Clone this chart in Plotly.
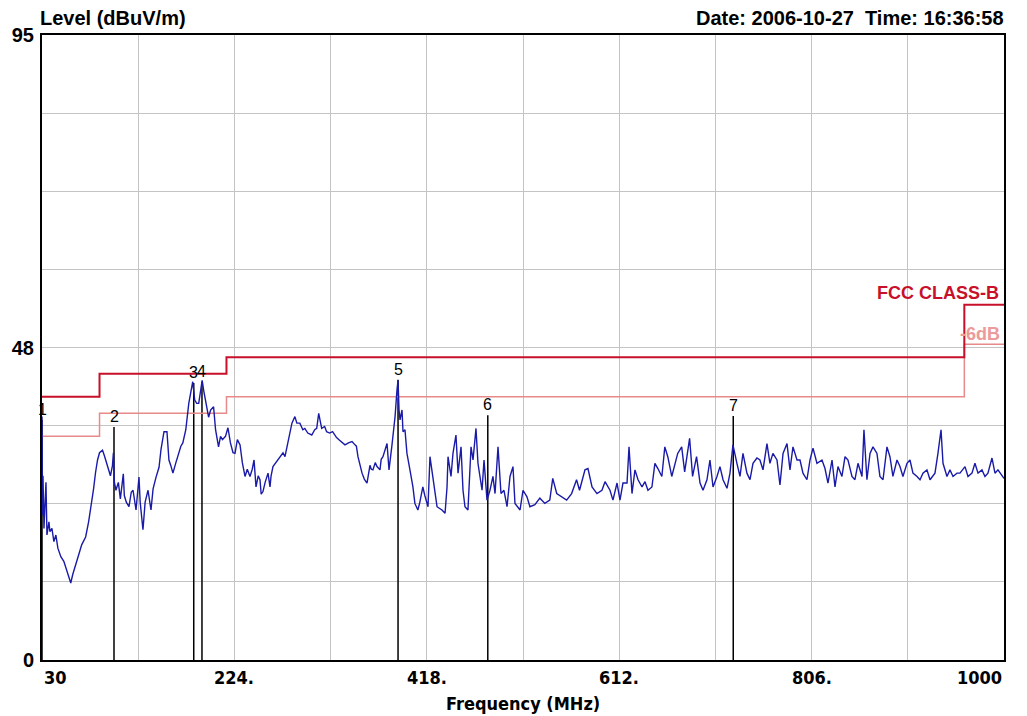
import plotly.graph_objects as go

# ---------------- data ----------------
trace_freq = [
    30, 30.5, 31, 32, 34, 35, 37, 38, 40, 42, 44, 46, 49, 52, 55, 57, 59, 61, 64, 67, 70, 74, 77, 79,
    82, 84, 86, 88, 91, 93, 96.5, 99, 101, 102, 103, 104.6, 107, 109, 112, 113, 115, 117.7, 120,
    121.8, 124.8, 127.8, 129, 131.8, 134, 136.9, 139.9, 142, 145, 148, 150, 153, 156, 158, 160, 162,
    165, 167, 170, 172, 175, 178, 181, 182, 184, 186, 188, 190, 191.5, 193, 195, 198, 200, 203, 205,
    208, 210, 212, 215, 217.5, 220, 222.6,
    224.6, 227, 229.7, 232, 234.7, 237, 239.7, 242, 243.8, 245.8, 248, 249.8, 251, 252.8, 255, 257.9,
    259.9, 261, 262.9, 266, 270, 273, 275, 278, 280, 282, 285, 287, 290, 293, 295, 298, 302, 305, 307,
    309, 312, 315, 317, 320, 323, 327, 330, 335.5, 339, 342.6, 345.6, 347, 348.6, 352.7, 355, 357.7,
    360.7, 362, 363.7, 366, 367.8, 370.8, 372, 373.8, 377.9, 379.9, 382.9, 384.9, 386, 387.9, 389, 390,
    391, 393, 394, 396, 398, 401, 404, 406, 409, 411, 414, 416,
    419.2, 421.2, 424.2, 428.3, 433.3, 436.4, 438.4, 439.4, 442.4, 444.4, 447.4, 449.5, 452.5, 454.5,
    456.5, 459.5, 462.6, 464.6, 467.6, 469.6, 473.7, 475.7, 478.7, 481.7, 484.7, 486.8, 489.8, 492.8,
    495.8, 498.9, 501.9, 504.9, 506.9, 512, 515, 519, 522, 527, 532, 537, 542, 545, 549, 554, 559, 564,
    569, 572, 577.5, 580.5, 584.6, 589.6, 594.6, 597.7, 602.7, 605.7, 609.8, 612.8, 615.8,
    619.9, 621.9, 624.9, 627.9, 631, 635, 638, 641, 645, 648, 651, 655, 658, 661, 665, 668, 671, 675,
    678, 683, 686, 690, 693.5, 696.5, 700.5, 703.5, 706.6, 710.6, 713.6, 716.7, 720.7, 723.7, 726.7,
    730.7, 733.8, 736.8, 740.8, 743.9, 746.9, 750.9, 753.9, 757, 761, 764, 767, 771.1, 774.1, 777.2,
    781.2, 784.2, 787.2, 791.3, 794.3, 797.3, 801.3, 804.4, 807.4, 811.4,
    816.5, 819.5, 822.5, 826.6, 829.6, 832.6, 836.6, 839.7, 842.7, 846.7, 849.7, 852.8, 856.8, 858.8,
    861.8, 864.9, 867.9, 871.9, 874.9, 878, 882, 885, 888, 892.1, 895.1, 898.1, 902.2, 905.2, 908.2,
    912.3, 915.3, 918.3, 922.3, 925.4, 930.4, 933.4, 936.5, 938.5, 942.5, 945.5, 948.6, 952.6, 955.6,
    960.7, 963.7, 967.7, 970.7, 973.8, 977.8, 980.8, 983.8, 987.9, 990.9, 993.9, 998, 1000,
]
trace_level = [
    37, 22, 28, 20, 27, 19, 21, 19.5, 20, 18, 19, 17, 15.7, 15, 13.5, 12.5, 11.7, 13, 14.7, 16, 17.5,
    18.7, 21, 22.8, 26, 28.5, 30.4, 31.5, 31.9, 31, 29.3, 28, 29.5, 31.5, 27, 25.8, 27, 24.5, 28.3, 25,
    24, 23.3, 25.5, 25.8, 22.8, 27.8, 24, 19.8, 24, 25.8, 22.8, 26, 27.8, 29.3, 32, 34.7, 34.7, 30.4,
    29.5, 28.4, 30, 30.9, 32.5, 33, 35, 39, 41.8, 42.3, 39.5, 39, 39, 41.5, 42.5, 41, 39.5, 36.9, 38,
    38.5, 35, 32.4, 34, 33.5, 34, 35.3, 33, 31.5,
    31.4, 33.5, 32.7, 30, 27.9, 29, 27.9, 29, 30.4, 26.3, 28, 27.4, 25.2, 25.6, 27, 28.4, 26.3, 28,
    29.4, 30, 30.9, 31.5, 30.9, 32.9, 34.5, 36.0, 37.0, 36, 36.0, 35, 35.2, 34.5, 34.2, 35, 35.2, 37.5,
    35.2, 35.5, 34.7, 34.5, 34.7, 33.8, 33.4, 32.7, 33, 33.2, 32.7, 32.5, 30.9, 28.4, 27.5, 26.9, 29.6,
    29, 28.9, 30, 29.4, 28.9, 30.5, 30.9, 32.9, 28.9, 32.7, 35.5, 37, 41.0, 42.5, 38, 36.5, 38, 34.7,
    35, 31.4, 28.9, 26.3, 23.8, 22.8, 24, 26.3, 25,
    23.3, 30.9, 27.9, 23.3, 22.8, 22.3, 26.3, 30.9, 27.9, 31.4, 34.2, 28.4, 32.4, 25.8, 23.3, 22.8,
    32.4, 30.4, 35.2, 29.9, 25.8, 30.4, 24.3, 25.8, 27.9, 25.3, 32.4, 25.3, 25.8, 23.3, 27.9, 29.4,
    23.8, 22.8, 25.8, 24.8, 23.3, 23.6, 24.6, 23.8, 24.3, 27.6, 25.3, 24.8, 24.3, 25.3, 27.4, 25.8,
    28.9, 29.1, 26.3, 25.3, 25.8, 27.1, 25.8, 24.3, 26.9, 24.3, 26.9,
    26.9, 32.4, 25.3, 28.9, 27.4, 26.3, 27.1, 25.8, 26.3, 29.9, 29.1, 27.9, 32.4, 30.9, 27.9, 29.9,
    31.4, 32.4, 28.6, 33.7, 27.9, 30.9, 26.9, 25.8, 27.4, 30.4, 26.3, 27.9, 29.4, 27.4, 26.1, 28.4,
    32.7, 29.9, 27.9, 31.4, 28.4, 27.4, 29.9, 30.7, 30.4, 28.9, 32.9, 29.9, 31.4, 30.4, 26.6, 31.4,
    32.9, 28.9, 32.4, 30.4, 30.4, 28.4, 27.4, 30.4, 32.2, 29.9,
    30.4, 29.1, 26.9, 30.4, 26.3, 29.4, 27.9, 30.9, 30.4, 27.9, 27.4, 29.9, 27.9, 35.0, 27.4, 31.4,
    32.4, 31.4, 27.9, 27.4, 32.4, 30.9, 27.9, 30.4, 29.4, 27.9, 29.9, 30.4, 28.4, 27.9, 27.4, 28.4,
    28.9, 27.4, 28.4, 31.4, 35.0, 29.9, 27.9, 28.9, 27.9, 28.4, 28.4, 29.4, 27.9, 28.4, 29.9, 28.4,
    28.9, 27.9, 28.4, 30.7, 28.4, 28.9, 27.9, 27.6,
]

limit_freq = [30, 88, 216, 960, 1000]
limit_level = [40, 43.5, 46, 54, 54]
limit6_level = [34, 37.5, 40, 48, 48]

marker_labels = ["1", "2", "3", "4", "5", "6", "7"]
marker_freq = [30, 102.6, 183, 191.3, 389, 479.5, 727]
marker_level = [36.5, 35.4, 42.1, 42.3, 42.6, 37.2, 37.1]

x_tick_vals = [30, 224, 418, 612, 806, 1000]
x_tick_text = ["30", "224.", "418.", "612.", "806.", "1000"]
x_grid_vals = [30, 127, 224, 321, 418, 515, 612, 709, 806, 903, 1000]
y_grid_vals = [0, 11.875, 23.75, 35.625, 47.5, 59.375, 71.25, 83.125, 95]
y_grid_text = ["0", "", "", "", "48", "", "", "", "95"]

# ---------------- figure ----------------
FONT = "Liberation Sans, Arial, sans-serif"
NARROW = "Liberation Sans Narrow, DejaVu Sans Condensed, Arial Narrow, sans-serif"

fig = go.Figure()

# marker lines
mx, my = [], []
for f, v in zip(marker_freq, marker_level):
    mx += [f, f, None]
    my += [0, v, None]
fig.add_trace(go.Scatter(x=mx, y=my, mode="lines",
                         line=dict(color="black", width=1.5), hoverinfo="skip"))

# -6dB line
fig.add_trace(go.Scatter(x=limit_freq, y=limit6_level, mode="lines", line_shape="hv",
                         line=dict(color="#e88a8a", width=1.5)))
# limit line
fig.add_trace(go.Scatter(x=limit_freq, y=limit_level, mode="lines", line_shape="hv",
                         line=dict(color="#c8102a", width=2)))

# measured trace
fig.add_trace(go.Scatter(x=trace_freq, y=trace_level, mode="lines",
                         line=dict(color="#1a1aa8", width=1.4)))

annotations = []
for lab, f, v in zip(marker_labels, marker_freq, marker_level):
    annotations.append(dict(x=f, y=v, xref="x", yref="y", text=lab, showarrow=False,
                            yanchor="bottom", yshift=0,
                            font=dict(family=FONT, size=16, color="black")))

for val, txt in zip(x_tick_vals, x_tick_text):
    anchor = "left" if val == x_tick_vals[0] else ("right" if val == x_tick_vals[-1] else "center")
    annotations.append(dict(x=val, y=0, xref="x", yref="y", text="<b>" + txt + "</b>",
                            showarrow=False, xanchor=anchor, yanchor="top", yshift=-5,
                            font=dict(family=NARROW, size=18, color="black")))

annotations += [
    dict(x=0.5, y=-0.05, xref="paper", yref="paper", text="<b>Frequency (MHz)</b>",
         showarrow=False, xanchor="center", yanchor="top",
         font=dict(family=NARROW, size=18, color="black")),
    dict(x=-0.004, y=1.0, xref="paper", yref="paper", text="<b>Level (dBuV/m)</b>",
         showarrow=False, xanchor="left", yanchor="bottom", yshift=4,
         font=dict(family=FONT, size=20, color="black")),
    dict(x=1.002, y=1.0, xref="paper", yref="paper",
         text="<b>Date: 2006-10-27  Time: 16:36:58</b>",
         showarrow=False, xanchor="right", yanchor="bottom", yshift=4,
         font=dict(family=FONT, size=20, color="black")),
    dict(x=997, y=limit_level[-1], xref="x", yref="y", text="<b>FCC CLASS-B</b>",
         showarrow=False, xanchor="right", yanchor="bottom", yshift=0,
         font=dict(family=FONT, size=18, color="#c8102a")),
    dict(x=998, y=limit6_level[-1], xref="x", yref="y", text="<b>-6dB</b>",
         showarrow=False, xanchor="right", yanchor="bottom", yshift=-2,
         font=dict(family=FONT, size=18, color="#ec9a9a")),
]

fig.update_layout(
    width=1027, height=716,
    margin=dict(l=42, r=23, t=35, b=56, autoexpand=False),
    paper_bgcolor="white", plot_bgcolor="white",
    showlegend=False,
    annotations=annotations,
    xaxis=dict(range=[30, 1000], tickvals=x_grid_vals, showticklabels=False,
               showgrid=True, gridcolor="#c4c4c4", gridwidth=1, zeroline=False,
               showline=True, linecolor="black", linewidth=2, mirror=True, ticks="",
               automargin=False),
    yaxis=dict(range=[0, 95], tickvals=y_grid_vals,
               ticktext=["<b>" + t + "</b>" if t else "" for t in y_grid_text],
               tickfont=dict(family=FONT, size=20, color="black"),
               showgrid=True, gridcolor="#c4c4c4", gridwidth=1, zeroline=False,
               showline=True, linecolor="black", linewidth=2, mirror=True, ticks="",
               ticklabelstandoff=2, automargin=False),
)

fig.write_html("out.html", config={"displayModeBar": False},
               post_script="document.body.style.margin='0';document.body.style.overflow='hidden';")
